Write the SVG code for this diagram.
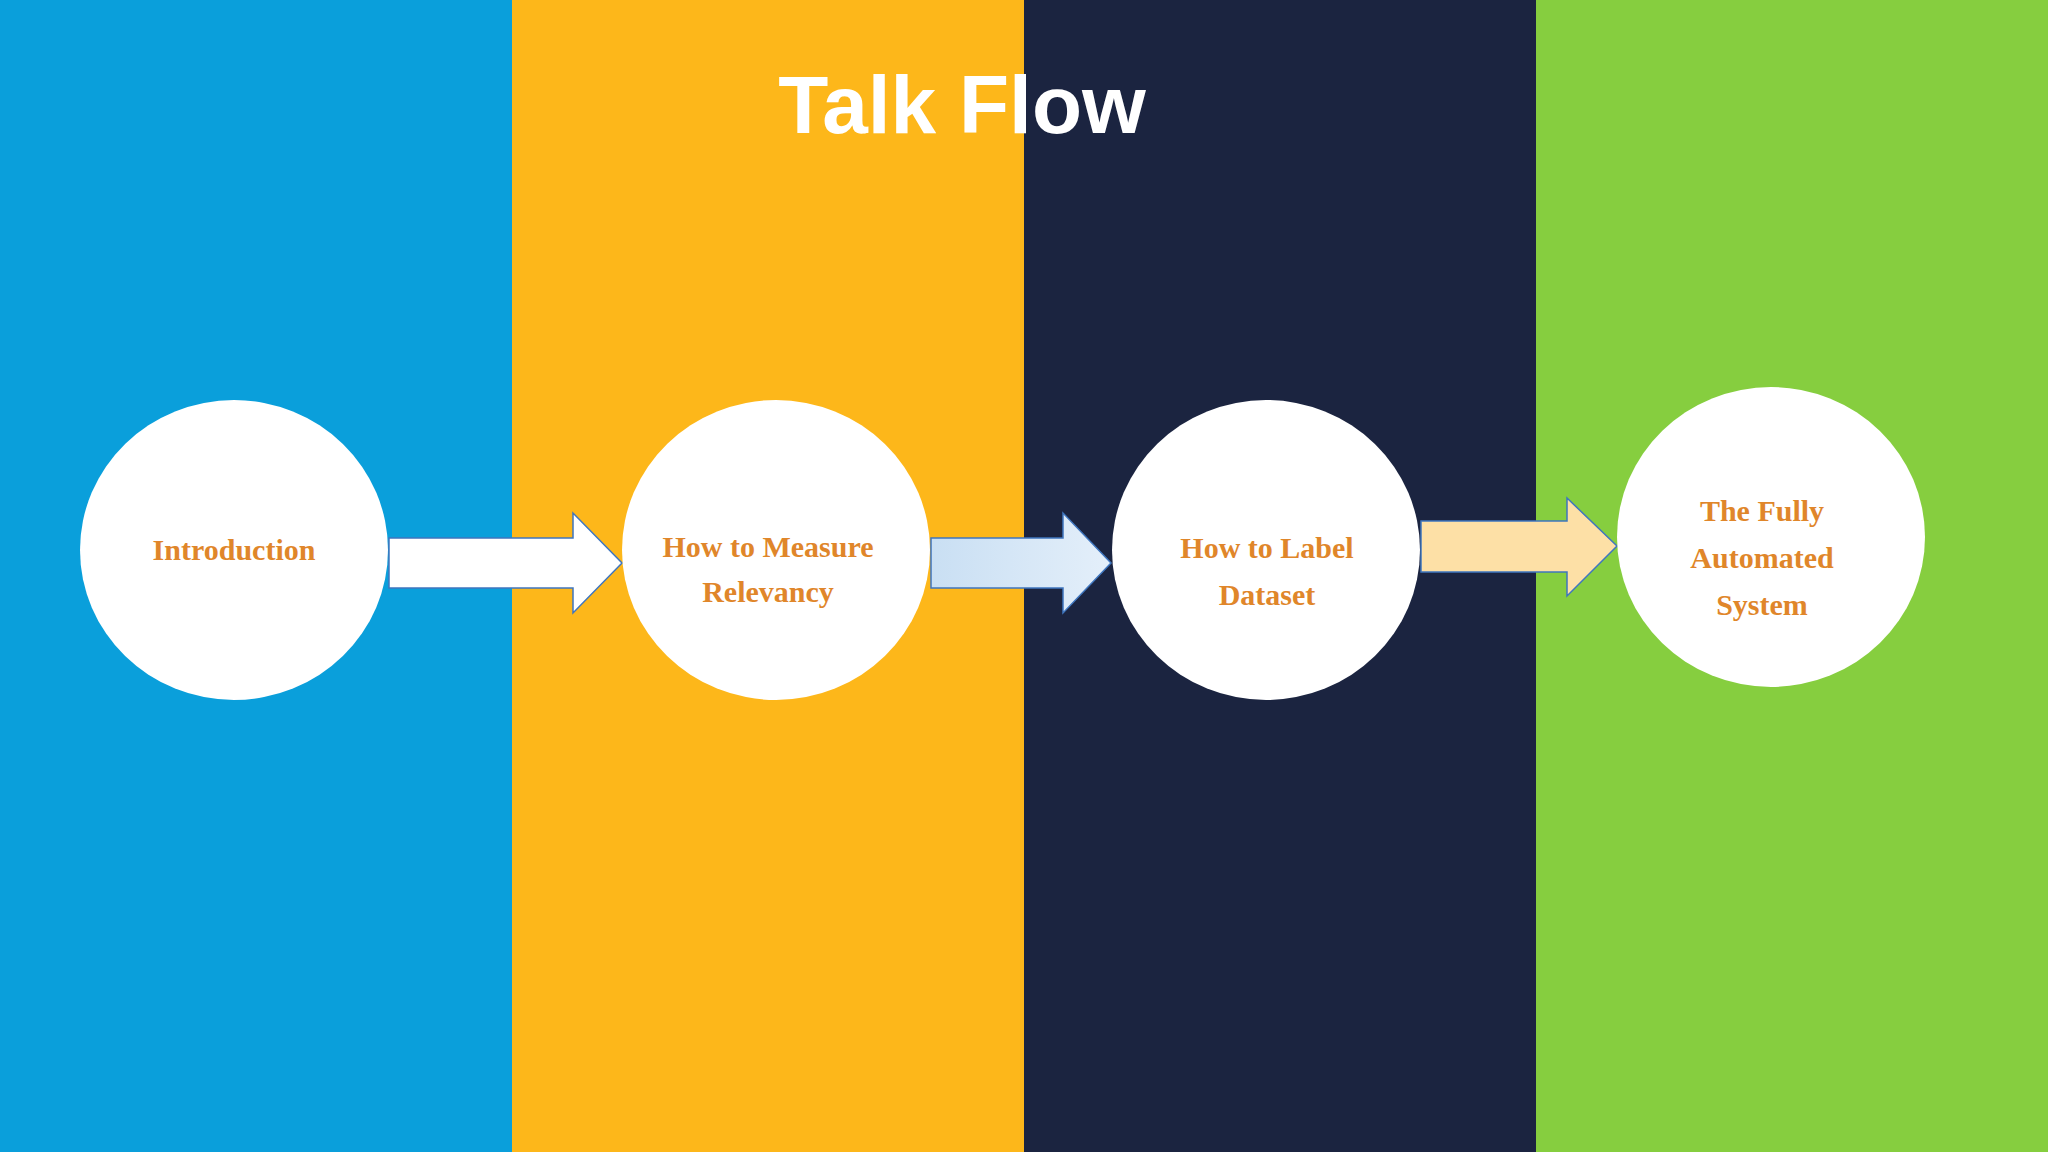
<svg xmlns="http://www.w3.org/2000/svg" width="2048" height="1152" viewBox="0 0 2048 1152">
<style>
.node{fill:#fff}
.lbl{font-family:"Liberation Serif","DejaVu Serif",serif;font-weight:bold;font-size:30px;fill:#E0862A;text-anchor:middle}
.arr{stroke:#3F76BF;stroke-width:1.5}
</style>
<defs>
<linearGradient id="g2" x1="0" y1="0" x2="1" y2="0">
<stop offset="0" stop-color="#C9DFF3"/><stop offset="1" stop-color="#E4EFFA"/>
</linearGradient>
</defs>
<rect x="0" y="0" width="512" height="1152" fill="#0A9FDB"/>
<rect x="512" y="0" width="512" height="1152" fill="#FDB71A"/>
<rect x="1024" y="0" width="512" height="1152" fill="#1B2440"/>
<rect x="1536" y="0" width="512" height="1152" fill="#86CE3F"/>
<text x="962" y="133" font-family="Liberation Sans,Arial,sans-serif" font-weight="bold" font-size="82" fill="#fff" text-anchor="middle">Talk Flow</text>
<g id="connectors">
<polygon class="arr" fill="#fff" points="389,538 573,538 573,513 622,563 573,613 573,588 389,588"/>
<polygon class="arr" fill="url(#g2)" points="931,538 1063,538 1063,513 1111,563 1063,613 1063,588 931,588"/>
<polygon class="arr" fill="#FDE0A6" points="1421,521 1567,521 1567,498 1617,546 1567,596 1567,572 1421,572"/>
</g>
<g id="n1"><ellipse class="node" cx="234" cy="550" rx="154" ry="150"/><text class="lbl" x="234" y="560">Introduction</text></g>
<g id="n2"><ellipse class="node" cx="776" cy="550" rx="154" ry="150"/><text class="lbl" x="768" y="557">How to Measure</text><text class="lbl" x="768" y="602">Relevancy</text></g>
<g id="n3"><ellipse class="node" cx="1266" cy="550" rx="154" ry="150"/><text class="lbl" x="1267" y="558">How to Label</text><text class="lbl" x="1267" y="605">Dataset</text></g>
<g id="n4"><ellipse class="node" cx="1771" cy="537" rx="154" ry="150"/><text class="lbl" x="1762" y="521">The Fully</text><text class="lbl" x="1762" y="568">Automated</text><text class="lbl" x="1762" y="615">System</text></g>
</svg>
